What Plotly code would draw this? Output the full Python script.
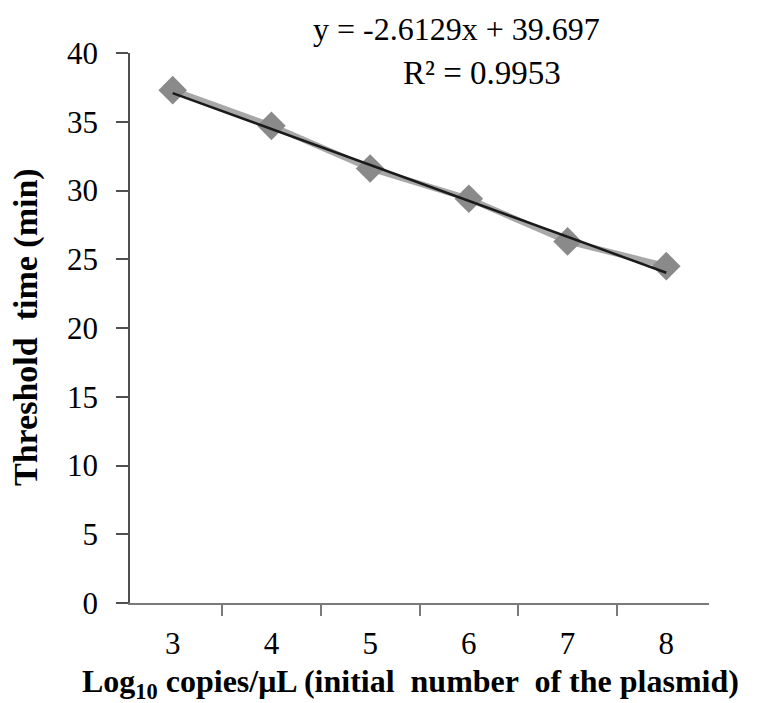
import plotly.graph_objects as go

categories = ["3", "4", "5", "6", "7", "8"]
threshold_time = [37.3, 34.7, 31.6, 29.4, 26.3, 24.5]
slope = -2.6129
intercept = 39.697
r_squared = 0.9953
y_tick_vals = [0, 5, 10, 15, 20, 25, 30, 35, 40]
x_title = "<b>Log<sub>10</sub> copies/μL (initial  number  of the plasmid)</b>"
y_title = "<b>Threshold  time (min)</b>"

trend = [slope * (i + 1) + intercept for i in range(len(categories))]

FONT = "Liberation Serif"
L, R, T, B = 122, 57, 45, 108
W, H = 758, 703
PW, PH = W - L - R, H - T - B


def px(x):
    return (x - L) / PW


def py(y):
    return (H - B - y) / PH


fig = go.Figure()
fig.add_trace(go.Scatter(
    x=categories, y=threshold_time, mode="lines+markers",
    line=dict(color="#a8a8a8", width=6),
    marker=dict(symbol="diamond", size=22, color="#8a8a8a"),
    showlegend=False,
))
fig.add_trace(go.Scatter(
    x=categories, y=trend, mode="lines",
    line=dict(color="#1a1a1a", width=2.5),
    showlegend=False,
))

fig.update_layout(
    width=W, height=H,
    margin=dict(l=L, r=R, t=T, b=B),
    paper_bgcolor="white", plot_bgcolor="white",
    font=dict(family=FONT, color="black"),
)

fig.add_annotation(
    text=f"y = {slope}x + {intercept}",
    x=px(448), y=py(21), xref="paper", yref="paper", yanchor="middle",
    showarrow=False, font=dict(family=FONT, size=32, color="black"),
)
fig.add_annotation(
    text=f"R² = {r_squared}",
    x=px(474), y=py(65), xref="paper", yref="paper", yanchor="middle",
    showarrow=False, font=dict(family=FONT, size=33, color="black"),
)
fig.add_annotation(
    text=x_title,
    x=px(402), y=py(675), xref="paper", yref="paper", yanchor="middle",
    showarrow=False, font=dict(family=FONT, size=32, color="black"),
)
fig.add_annotation(
    text=y_title, textangle=-90,
    x=px(18), y=py(319), xref="paper", yref="paper", xanchor="center", yanchor="middle",
    showarrow=False, font=dict(family=FONT, size=34, color="black"),
)

fig.update_xaxes(
    type="category", categoryorder="array", categoryarray=categories,
    tickson="boundaries", ticks="outside", ticklen=11, tickwidth=1.5, tickcolor="#7a7a7a",
    showline=True, linecolor="#7a7a7a", linewidth=1.5, showgrid=False, zeroline=False,
    tickfont=dict(family=FONT, size=31, color="black"), ticklabelstandoff=12,
)
fig.update_yaxes(
    range=[0, 40], tickvals=y_tick_vals, ticks="outside", ticklen=12, tickwidth=1.5,
    tickcolor="#505050", showline=True, linecolor="#505050", linewidth=1.5,
    showgrid=False, zeroline=False,
    tickfont=dict(family=FONT, size=31, color="black"), ticklabelstandoff=12,
)

fig.write_html("out.html")
